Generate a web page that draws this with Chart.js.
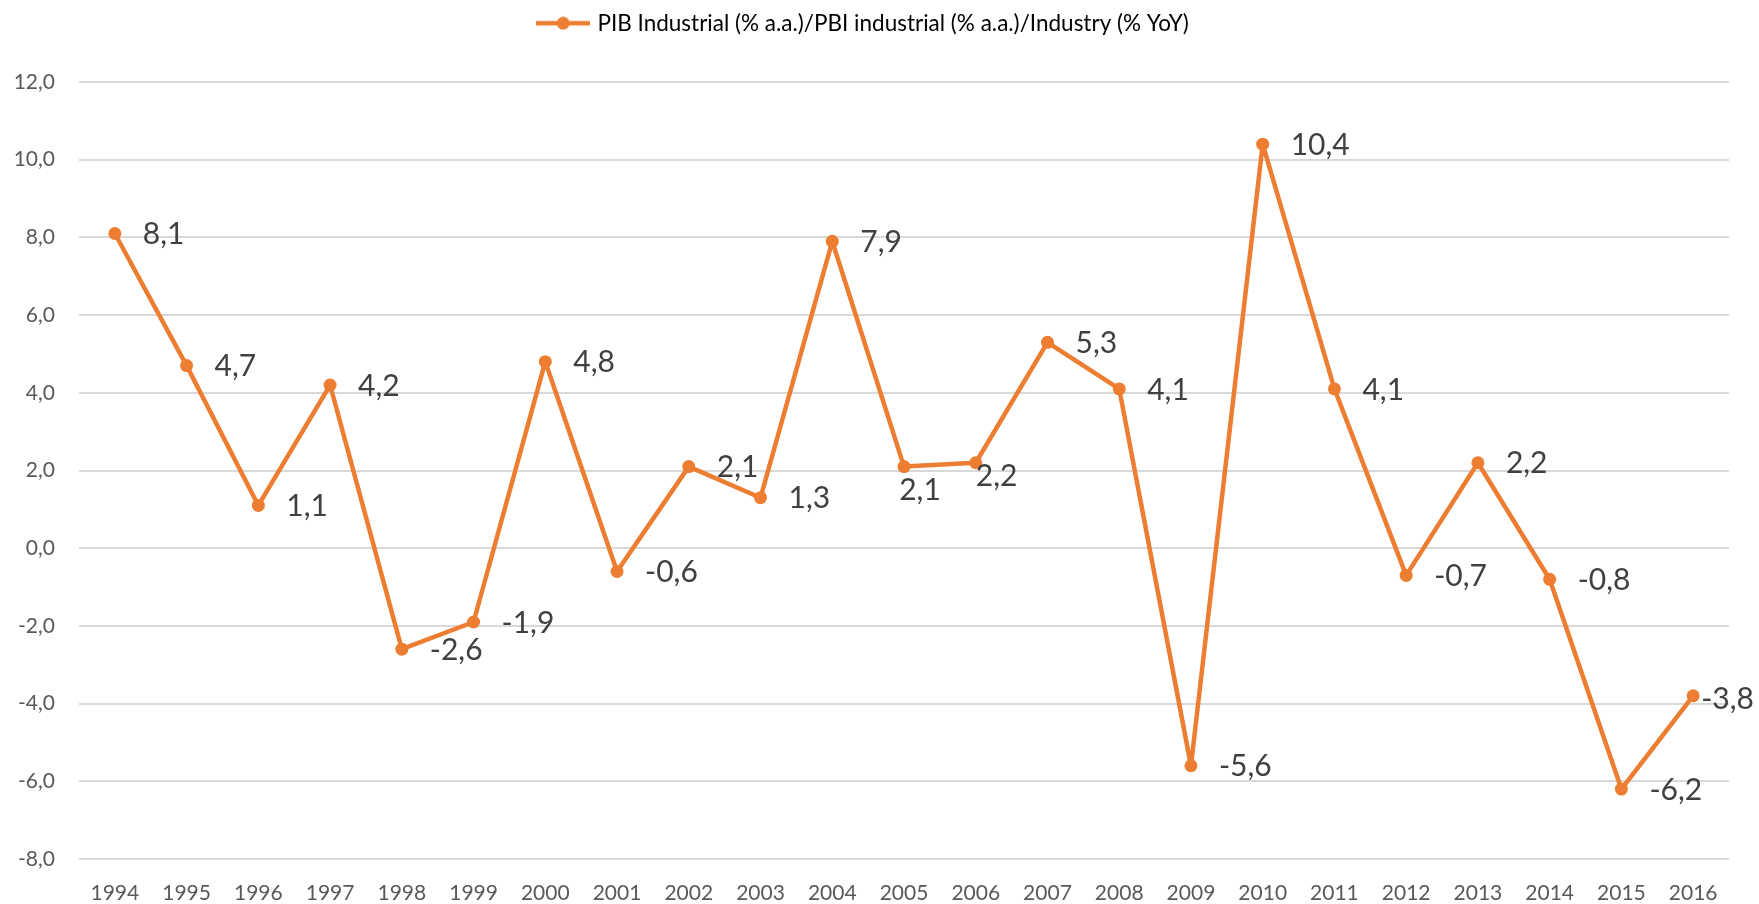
<!DOCTYPE html>
<html>
<head>
<meta charset="utf-8">
<script src="https://cdn.jsdelivr.net/npm/chart.js@4"></script>
<style>
  html, body { margin: 0; padding: 0; background: #fff; }
  #wrap { width: 1759px; height: 904px; }
</style>
</head>
<body>
<div id="wrap"><canvas id="grafico"></canvas></div>
<script>
const anos = ['1994','1995','1996','1997','1998','1999','2000','2001','2002','2003','2004','2005',
              '2006','2007','2008','2009','2010','2011','2012','2013','2014','2015','2016'];
const pibIndustrial = [8.1, 4.7, 1.1, 4.2, -2.6, -1.9, 4.8, -0.6, 2.1, 1.3, 7.9, 2.1,
                       2.2, 5.3, 4.1, -5.6, 10.4, 4.1, -0.7, 2.2, -0.8, -6.2, -3.8];
const nomeSerie = 'PIB Industrial (% a.a.)/PBI industrial (% a.a.)/Industry (% YoY)';
const yMin = -8, yMax = 12, yPasso = 2;

const laranja = '#ED7D31';
const fonte = 'Lato, "Open Sans", sans-serif';
const fmt = v => v.toFixed(1).replace('.', ',');

// marcador da legenda: linha com bolinha
const marcador = document.createElement('canvas');
marcador.width = 54; marcador.height = 14;
(() => {
    const c = marcador.getContext('2d');
    c.strokeStyle = laranja; c.lineWidth = 4.5;
    c.beginPath(); c.moveTo(0, 7); c.lineTo(54, 7); c.stroke();
    c.fillStyle = laranja;
    c.beginPath(); c.arc(27, 7, 6.5, 0, Math.PI * 2); c.fill();
})();

// rótulos de dados à direita dos pontos
const rotulos = {
    id: 'rotulos',
    afterDatasetsDraw(chart) {
        const ctx = chart.ctx;
        const meta = chart.getDatasetMeta(0);
        const ultimo = meta.data.length - 1;
        ctx.save();
        ctx.font = '30px ' + fonte;
        ctx.fillStyle = '#404040';
        meta.data.forEach((p, i) => {
            const txt = fmt(chart.data.datasets[0].data[i]);
            ctx.textBaseline = 'middle';
            if (i === 11) {
                ctx.textAlign = 'center';
                ctx.fillText(txt, p.x + 16, p.y + 24);
            } else if (i === 12) {
                ctx.textAlign = 'left';
                ctx.fillText(txt, p.x, p.y + 14);
            } else if (i === ultimo) {
                ctx.textAlign = 'left';
                ctx.fillText(txt, p.x + 8, p.y + 3);
            } else {
                ctx.textAlign = 'left';
                ctx.fillText(txt, p.x + 28, p.y + 1);
            }
        });
        ctx.restore();
    }
};

const alturaLegenda = {
    id: 'alturaLegenda',
    beforeInit(chart) {
        const f = chart.legend.fit;
        chart.legend.fit = function () { f.call(this); this.height = 82; };
    }
};

const ctx = document.getElementById('grafico');
const grafico = new Chart(ctx, {
    type: 'line',
    data: {
        labels: anos,
        datasets: [{
            label: nomeSerie,
            data: pibIndustrial,
            borderColor: laranja,
            backgroundColor: laranja,
            borderWidth: 4.5,
            borderJoinStyle: 'round',
            pointRadius: 6.5,
            pointHoverRadius: 6.5,
            pointBackgroundColor: laranja,
            pointBorderWidth: 0,
            tension: 0
        }]
    },
    options: {
        responsive: true,
        maintainAspectRatio: false,
        animation: false,
        layout: { padding: { left: 0, right: 30, top: 0, bottom: 0 } },
        plugins: {
            legend: {
                display: true,
                position: 'top',
                labels: {
                    usePointStyle: true,
                    pointStyle: marcador,
                    pointStyleWidth: 46,
                    padding: 12,
                    color: '#595959',
                    font: { family: fonte, size: 22.5 },
                    generateLabels: chart => [{
                        text: nomeSerie,
                        pointStyle: marcador,
                        fillStyle: laranja,
                        strokeStyle: laranja,
                        lineWidth: 0,
                        hidden: false,
                        datasetIndex: 0
                    }]
                }
            },
            tooltip: { enabled: false }
        },
        scales: {
            x: {
                offset: true,
                grid: { display: false },
                border: { display: false },
                ticks: {
                    color: '#595959',
                    font: { family: fonte, size: 21 },
                    padding: 14,
                    maxRotation: 0,
                    autoSkip: false
                },
                afterFit: s => { s.height = 45; }
            },
            y: {
                min: yMin,
                max: yMax,
                grid: { color: '#D9D9D9', lineWidth: 2, drawTicks: false },
                border: { display: false },
                ticks: {
                    stepSize: yPasso,
                    color: '#595959',
                    font: { family: fonte, size: 21 },
                    padding: 24,
                    callback: v => fmt(v)
                },
                afterFit: s => { s.width = 79; }
            }
        }
    },
    plugins: [rotulos, alturaLegenda]
});
</script>
</body>
</html>
